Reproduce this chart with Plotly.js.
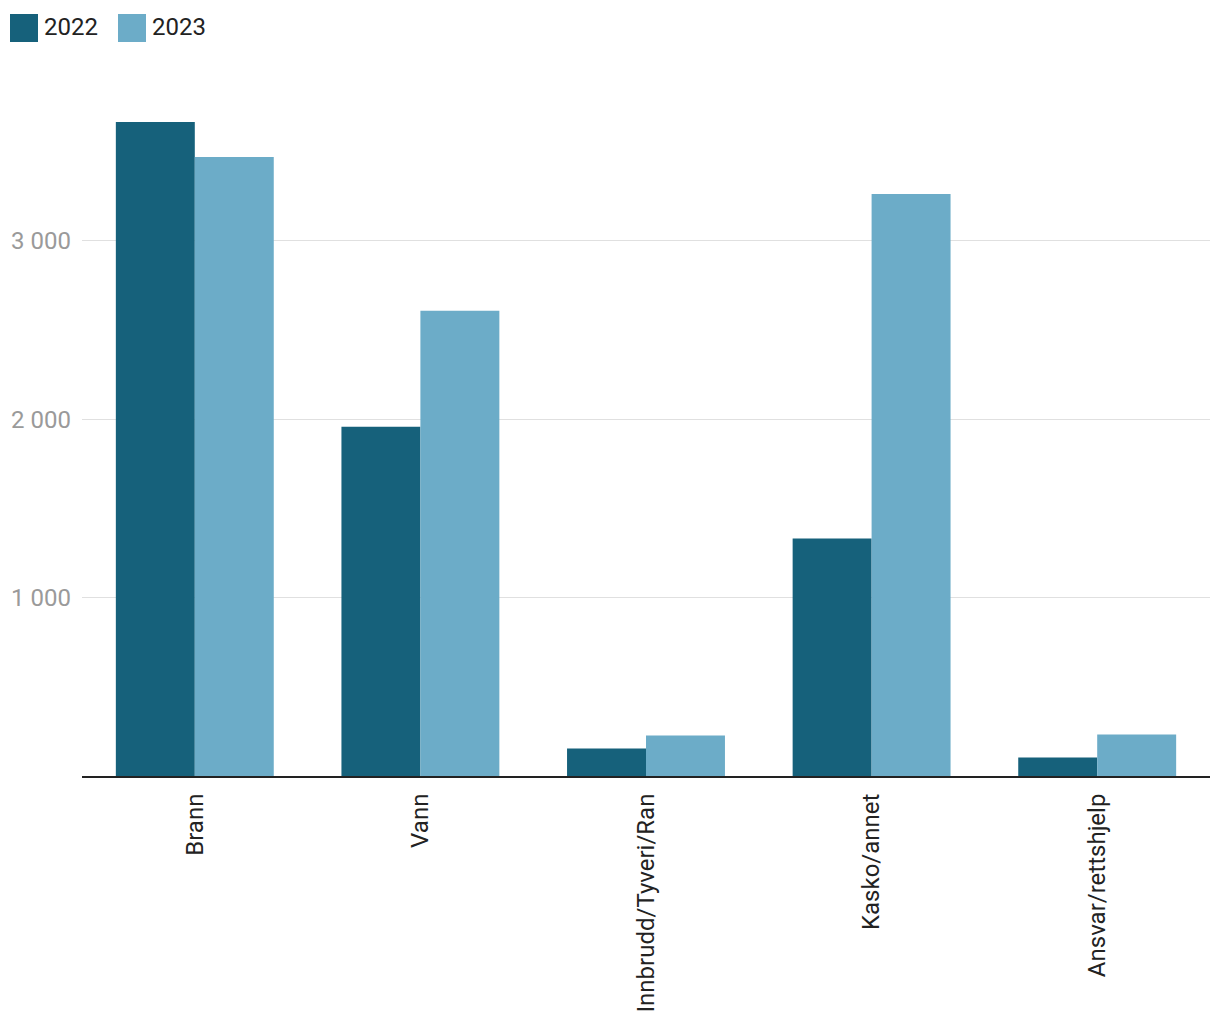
<!DOCTYPE html>
<html>
<head>
<meta charset="utf-8">
<script src="https://cdn.plot.ly/plotly-3.0.1.min.js"></script>
<style>html,body{margin:0;padding:0;background:#fff;}#chart{width:1220px;height:1020px;}</style>
</head>
<body>
<div id="chart"></div>
<script>
const categories = ["Brann", "Vann", "Innbrudd/Tyveri/Ran", "Kasko/annet", "Ansvar/rettshjelp"];
const values2022 = [3667, 1958, 154, 1331, 104];
const values2023 = [3471, 2608, 227, 3263, 232];
const seriesNames = ["2022", "2023"];
const yTicks = [1000, 2000, 3000];

const colors = ["#16617B", "#6CACC8"];
const font = "Roboto, 'Noto Sans', sans-serif";

const traces = [
  {type: "bar", name: seriesNames[0], x: categories, y: values2022, marker: {color: colors[0]}, hoverinfo: "x+y+name"},
  {type: "bar", name: seriesNames[1], x: categories, y: values2023, marker: {color: colors[1]}, hoverinfo: "x+y+name"}
];

// legend drawn in paper coordinates (plot area: x 82..1210, y 100..776 px)
const pxX = p => (p - 82) / 1128;
const pxY = p => (776 - p) / 676;
const legendShapes = [0, 1].map(i => ({
  type: "rect", xref: "paper", yref: "paper",
  x0: pxX(10 + i * 108), x1: pxX(38 + i * 108), y0: pxY(42), y1: pxY(14),
  fillcolor: colors[i], line: {width: 0}
}));
const legendText = [0, 1].map(i => ({
  xref: "paper", yref: "paper", x: pxX(42 + i * 108), y: pxY(27),
  xanchor: "left", yanchor: "middle", showarrow: false,
  text: seriesNames[i], font: {family: font, size: 24, color: "#222"}
}));

const layout = {
  width: 1220, height: 1020,
  margin: {l: 82, r: 10, t: 100, b: 244},
  paper_bgcolor: "#fff", plot_bgcolor: "#fff",
  separators: ", ",
  showlegend: false,
  barmode: "group", bargap: 0.3, bargroupgap: 0,
  font: {family: font, size: 24, color: "#222"},
  xaxis: {
    type: "category", tickangle: -90, showgrid: false, zeroline: false,
    showline: true, linecolor: "#222", linewidth: 2, ticks: "",
    ticklabelstandoff: 6,
    tickfont: {family: font, size: 24, color: "#222"}
  },
  yaxis: {
    range: [0, 3790], tickvals: yTicks, tickformat: ",d",
    showgrid: true, gridcolor: "#e0e0e0", gridwidth: 1, zeroline: false,
    showline: false, ticks: "", ticklabelstandoff: 10,
    tickfont: {family: font, size: 24, color: "#9a9a9a"}
  },
  shapes: legendShapes,
  annotations: legendText
};

Plotly.newPlot("chart", traces, layout, {displayModeBar: false, staticPlot: true});
</script>
</body>
</html>
